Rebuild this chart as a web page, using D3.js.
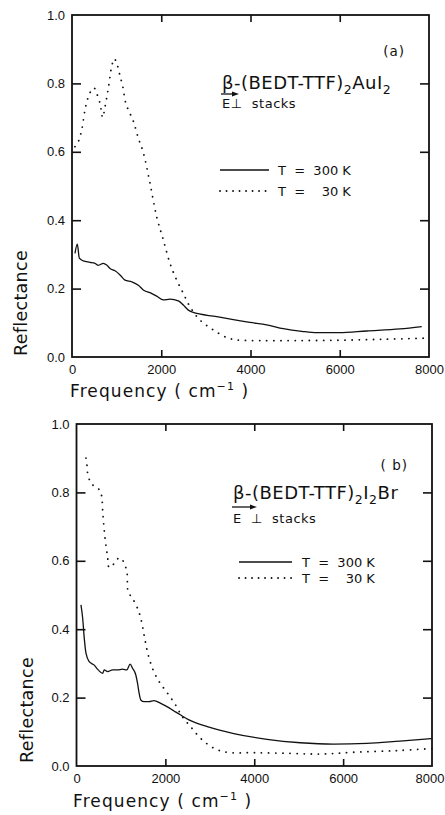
<!DOCTYPE html>
<html><head><meta charset="utf-8">
<script src="https://cdn.jsdelivr.net/npm/d3@7"></script>
<style>
html,body{margin:0;padding:0;background:#fff;}
svg{display:block;}
text{fill:#111;}
</style></head>
<body>
<svg id="chart" width="445" height="815"></svg>
<script>
// ---------- DATA ----------
const xTicks = [0, 2000, 4000, 6000, 8000];
const yTicks = [0.0, 0.2, 0.4, 0.6, 0.8, 1.0];

// Panel (a): beta-(BEDT-TTF)2AuI2, E perpendicular to stacks
const a_T300 = [
  [67,0.303],[119,0.330],[164,0.289],[253,0.281],[403,0.277],[515,0.274],[590,0.268],
  [702,0.274],[777,0.269],[852,0.259],[964,0.252],[1076,0.240],[1188,0.225],[1337,0.220],
  [1487,0.210],[1598,0.196],[1748,0.188],[1898,0.178],[2047,0.167],[2196,0.169],[2383,0.164],
  [2495,0.152],[2607,0.137],[2700,0.131],[3242,0.118],[3989,0.101],[4363,0.094],[4736,0.083],
  [5150,0.075],[5484,0.071],[5984,0.071],[6604,0.076],[7351,0.082],[7837,0.089]
];
const a_T30 = [
  [67,0.615],[142,0.630],[217,0.664],[291,0.722],[366,0.761],[441,0.781],[493,0.787],
  [553,0.771],[627,0.742],[687,0.700],[740,0.732],[814,0.786],[889,0.849],[948,0.872],
  [1015,0.854],[1076,0.822],[1136,0.792],[1210,0.740],[1300,0.712],[1374,0.690],[1487,0.640],
  [1598,0.598],[1748,0.508],[1898,0.410],[2047,0.342],[2196,0.274],[2346,0.225],[2495,0.186],
  [2644,0.147],[2868,0.108],[3167,0.079],[3466,0.057],[3690,0.050],[4200,0.048],[5000,0.048],
  [6000,0.049],[7000,0.052],[7900,0.055]
];
// Panel (b): beta-(BEDT-TTF)2I2Br, E perpendicular to stacks
const b_T300 = [
  [100,0.471],[139,0.432],[175,0.373],[213,0.330],[287,0.305],[399,0.295],[489,0.281],
  [588,0.271],[624,0.281],[700,0.276],[812,0.281],[924,0.281],[1036,0.283],[1133,0.281],
  [1207,0.298],[1261,0.286],[1335,0.266],[1373,0.242],[1409,0.213],[1447,0.193],[1521,0.188],
  [1633,0.188],[1745,0.191],[1895,0.183],[2046,0.173],[2194,0.161],[2344,0.149],[2530,0.135],
  [2943,0.115],[3540,0.095],[4288,0.078],[5036,0.068],[5783,0.064],[6532,0.066],[7279,0.073],
  [7990,0.080]
];
const b_T30 = [
  [213,0.900],[235,0.880],[251,0.856],[310,0.831],[363,0.822],[422,0.817],[475,0.812],
  [534,0.805],[572,0.783],[588,0.749],[610,0.710],[639,0.670],[677,0.632],[700,0.612],
  [736,0.580],[848,0.592],[960,0.609],[1036,0.602],[1133,0.568],[1162,0.510],[1261,0.490],
  [1373,0.461],[1447,0.432],[1521,0.383],[1597,0.334],[1709,0.286],[1857,0.247],[2046,0.213],
  [2232,0.178],[2382,0.144],[2568,0.115],[2793,0.081],[3091,0.052],[3392,0.040],[4000,0.039],
  [4800,0.037],[5500,0.035],[6200,0.040],[7200,0.045],[8000,0.051]
];

const legendLabels = ["T  =  300 K", "T  =    30 K"];

// ---------- DRAW ----------
const svg = d3.select("#chart");
const FONT = "'DejaVu Sans', sans-serif";
const NUMFONT = "'Liberation Sans', Arial, sans-serif";

function panel(cfg) {
  const x = d3.scaleLinear().domain([0, 8000]).range([cfg.left, cfg.right]);
  const y = d3.scaleLinear().domain([0, 1]).range([cfg.bottom, cfg.top]);
  const g = svg.append("g");

  // frame
  g.append("rect").attr("x", cfg.left).attr("y", cfg.top)
    .attr("width", cfg.right - cfg.left).attr("height", cfg.bottom - cfg.top)
    .attr("fill", "none").attr("stroke", "#111").attr("stroke-width", 1.8);

  // axes (ticks inward, on all four sides)
  const inner = xTicks.slice(1, -1), innerY = yTicks.slice(1, -1);
  const bx = g.append("g").attr("transform", `translate(0,${cfg.bottom})`)
    .call(d3.axisBottom(x).tickValues(xTicks).tickSizeInner(0).tickSizeOuter(0).tickPadding(8).tickFormat(d3.format("d")));
  bx.select(".domain").remove();
  bx.selectAll("text").attr("font-family", NUMFONT).attr("font-size", 13).attr("fill", "#111");
  bx.selectAll(".tick").filter(d => d === xTicks[xTicks.length - 1]).select("text")
    .attr("text-anchor", "end").attr("x", Math.min(14.5, 444 - cfg.right));
  g.append("g").attr("transform", `translate(0,${cfg.bottom})`)
    .call(d3.axisTop(x).tickValues(inner).tickSize(7).tickFormat(""))
    .call(s => s.select(".domain").remove());
  g.append("g").attr("transform", `translate(0,${cfg.top})`)
    .call(d3.axisBottom(x).tickValues(inner).tickSize(7).tickFormat(""))
    .call(s => s.select(".domain").remove());

  const ly = g.append("g").attr("transform", `translate(${cfg.left},0)`)
    .call(d3.axisLeft(y).tickValues(yTicks).tickSizeInner(0).tickSizeOuter(0).tickPadding(7).tickFormat(d3.format(".1f")));
  ly.select(".domain").remove();
  ly.selectAll("text").attr("font-family", NUMFONT).attr("font-size", 13).attr("fill", "#111");
  g.append("g").attr("transform", `translate(${cfg.left},0)`)
    .call(d3.axisRight(y).tickValues(innerY).tickSize(9).tickFormat(""))
    .call(s => s.select(".domain").remove());
  g.append("g").attr("transform", `translate(${cfg.right},0)`)
    .call(d3.axisLeft(y).tickValues(innerY).tickSize(9).tickFormat(""))
    .call(s => s.select(".domain").remove());
  g.selectAll(".tick line").attr("stroke", "#111").attr("stroke-width", 1.6);

  // curves
  const line = d3.line().x(d => x(d[0])).y(d => y(d[1])).curve(d3.curveMonotoneX);
  g.append("path").datum(cfg.s300).attr("d", line)
    .attr("fill", "none").attr("stroke", "#111").attr("stroke-width", 1.3);
  g.append("path").datum(cfg.s30).attr("d", d3.line().x(d => x(d[0])).y(d => y(d[1])).curve(d3.curveCatmullRom))
    .attr("fill", "none").attr("stroke", "#111").attr("stroke-width", 1.8)
    .attr("stroke-dasharray", "0.1 7").attr("stroke-linecap", "round");

  // y label
  g.append("text").attr("transform", `translate(${cfg.ylabX},${cfg.ylabY}) rotate(-90)`)
    .attr("text-anchor", "middle").attr("font-family", FONT).attr("font-size", 17.5)
    .attr("letter-spacing", 0.3).text("Reflectance");

  // x label
  const xl = g.append("text").attr("x", cfg.xlabX).attr("y", cfg.xlabY)
    .attr("font-family", FONT).attr("font-size", 17).attr("letter-spacing", 1.1);
  xl.append("tspan").text("Frequency  ( cm");
  xl.append("tspan").attr("font-size", 11).attr("dy", -7).text("−1");
  xl.append("tspan").attr("dy", 7).text(" )");

  // panel letter
  g.append("text").attr("x", cfg.right - 24).attr("y", cfg.letterY).attr("text-anchor", "end")
    .attr("font-family", FONT).attr("font-size", 13.5).attr("letter-spacing", 1).text(cfg.letter);

  // compound name
  const t = g.append("text").attr("x", cfg.nameX).attr("y", cfg.nameY)
    .attr("font-family", FONT).attr("font-size", 18).attr("letter-spacing", 0.5);
  cfg.name.forEach((p, i) => {
    const ts = t.append("tspan").text(p[0]);
    if (p[1]) ts.attr("font-size", 12.5).attr("dy", 5);
    else if (i > 0 && cfg.name[i - 1][1]) ts.attr("dy", -5);
  });

  // E arrow and "stacks"
  g.append("line").attr("x1", cfg.nameX - 1).attr("x2", cfg.arrowX2 - 3)
    .attr("y1", cfg.arrowY).attr("y2", cfg.arrowY).attr("stroke", "#111").attr("stroke-width", 1.3);
  g.append("path").attr("d", `M${cfg.arrowX2},${cfg.arrowY} l-7,-2.5 l0,5 z`).attr("fill", "#111");
  g.append("text").attr("x", cfg.nameX).attr("y", cfg.stackY)
    .attr("font-family", FONT).attr("font-size", 13).attr("letter-spacing", 0.5).attr("fill", "#111")
    .style("white-space", "pre").text(cfg.stackText);

  // legend
  [0, 1].forEach(i => {
    const ly0 = cfg.legY[i];
    const ln = g.append("line").attr("x1", cfg.legX1).attr("x2", cfg.legX2).attr("y1", ly0).attr("y2", ly0)
      .attr("stroke", "#111");
    if (i === 0) ln.attr("stroke-width", 1.3);
    else ln.attr("stroke-width", 1.8).attr("stroke-dasharray", "0.1 6.4").attr("stroke-linecap", "round");
    g.append("text").attr("x", cfg.legTX).attr("y", ly0 + 5).attr("font-family", FONT).attr("font-size", 13)
      .style("white-space", "pre").text(legendLabels[i]);
  });
}

panel({
  left: 72, right: 429, top: 15, bottom: 357,
  s300: a_T300, s30: a_T30,
  ylabX: 27, ylabY: 303, xlabX: 70, xlabY: 397,
  letter: "(a)", letterY: 56,
  name: [["β-(BEDT-TTF)", false], ["2", true], ["AuI", false], ["2", true]],
  nameX: 222, nameY: 89, arrowX2: 239, arrowY: 94, stackY: 108, stackText: "E⊥  stacks",
  legX1: 220, legX2: 269, legY: [170, 191], legTX: 278
});
panel({
  left: 76.5, right: 432, top: 424, bottom: 766,
  s300: b_T300, s30: b_T30,
  ylabX: 33, ylabY: 710, xlabX: 73, xlabY: 807,
  letter: "( b)", letterY: 470,
  name: [["β-(BEDT-TTF)", false], ["2", true], ["I", false], ["2", true], ["Br", false]],
  nameX: 233, nameY: 499, arrowX2: 257, arrowY: 507, stackY: 523, stackText: "E  ⊥  stacks",
  legX1: 239, legX2: 292, legY: [562, 578], legTX: 302
});
</script>
</body></html>
